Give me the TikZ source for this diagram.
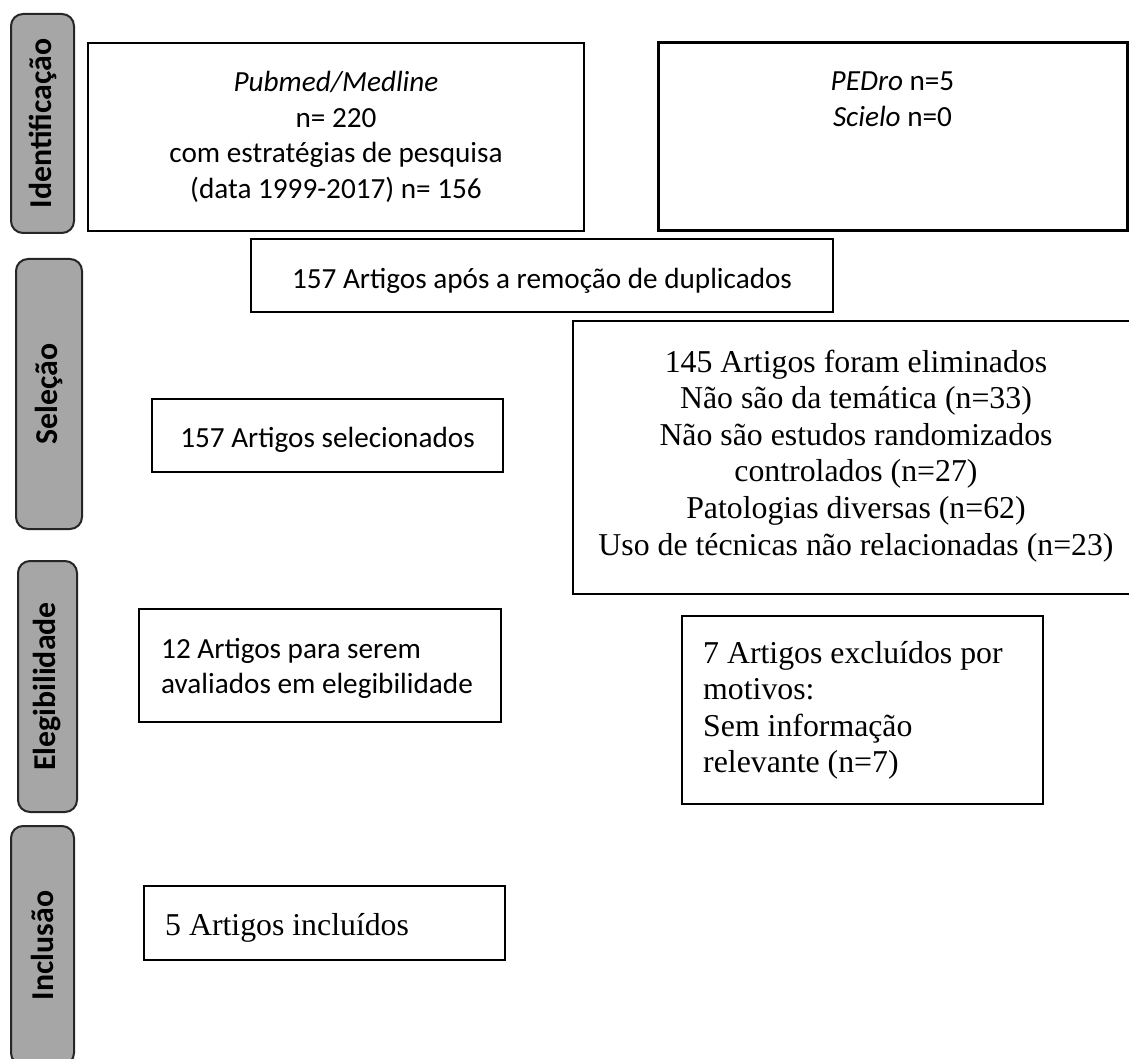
\documentclass[tikz,border=0pt]{standalone}
\usepackage{fontspec}
\newfontfamily\calib{Carlito}
\newfontfamily\tnr{Liberation Serif}
\newcommand\fcal{\calib\fontsize{29.2}{35.6}\selectfont}
\newcommand\fcalb{\calib\bfseries\fontsize{31.8}{38}\selectfont}
\newcommand\ftnr{\tnr\fontsize{31.8}{36.6}\selectfont}
\newcommand\ccol[1]{\begin{tabular}[t]{@{}c@{}}#1\end{tabular}}
\newcommand\lcol[1]{\begin{tabular}[t]{@{}l@{}}#1\end{tabular}}
\definecolor{sidegrey}{HTML}{A6A6A6}
\definecolor{sidedark}{HTML}{262626}
\begin{document}
\begin{tikzpicture}[x=1pt,y=-1pt,
  box/.style={draw=black,line width=2pt,inner sep=0pt,rectangle},
  side/.style={draw=sidedark,fill=sidegrey,line width=2pt,rounded corners=12pt,
    rotate=90,inner sep=0pt,font=\fcalb,text=black},
  txtc/.style={inner sep=0pt,anchor=base},
  txtl/.style={inner sep=0pt,anchor=base west}]
\useasboundingbox (0,0) rectangle (1129,1059);
\fill[white] (0,0) rectangle (1129,1059);
\clip (0,0) rectangle (1129,1059);

% phase sidebars
\node[side,minimum width=219pt,minimum height=63pt] (sbI) at (42.5,123.5) {Identificação};
\node[side,minimum width=270pt,minimum height=66pt] (sbS) at (49,394) {Seleção};
\node[side,minimum width=251pt,minimum height=59pt] (sbE) at (47.5,686.5) {Elegibilidade};
\node[side,minimum width=239pt,minimum height=63pt] (sbN) at (42.5,945.5) {Inclusão};

% boxes
\node[box,minimum width=496pt,minimum height=188pt] (pubmed) at (336,137) {};
\node[box,line width=3pt,minimum width=469pt,minimum height=188pt] (pedro) at (892.5,137) {};
\node[box,minimum width=582pt,minimum height=73pt] (dup) at (542,275.5) {};
\node[box,line width=2.5pt,minimum width=567pt,minimum height=273pt] (elim) at (856.5,457.5) {};
\node[box,minimum width=351pt,minimum height=73pt] (sel) at (327.5,435.5) {};
\node[box,minimum width=362pt,minimum height=113pt] (eleg) at (320,665.5) {};
\node[box,minimum width=361pt,minimum height=188pt] (excl) at (862.5,710) {};
\node[box,minimum width=361pt,minimum height=74pt] (incl) at (324.5,923) {};

% texts
\node[txtc,font=\fcal] (tpubmed) at (336,91.7) {\ccol{\textit{Pubmed/Medline}\\ n= 220\\ com estratégias de pesquisa\\ (data 1999-2017) n= 156}};
\node[txtc,font=\fcal] (tpedro) at (892.5,91) {\ccol{\textit{PEDro} n=5\\ \textit{Scielo} n=0}};
\node[txtc,font=\fcal] (tdup) at (542,288) {157 Artigos após a remoção de duplicados};
\node[txtc,font=\ftnr] (telim) at (856,372) {\ccol{145 Artigos foram eliminados\\ Não são da temática (n=33)\\ Não são estudos randomizados\\ controlados (n=27)\\ Patologias diversas (n=62)\\ Uso de técnicas não relacionadas (n=23)}};
\node[txtc,font=\fcal] (tsel) at (327.5,447) {157 Artigos selecionados};
\node[txtl,font=\fcal] (teleg) at (161,658) {\lcol{12 Artigos para serem\\ avaliados em elegibilidade}};
\node[txtl,font=\ftnr] (texcl) at (703,663) {\lcol{7 Artigos excluídos por\\ motivos:\\ Sem informação\\ relevante (n=7)}};
\node[txtl,font=\ftnr] (tincl) at (165,935) {5 Artigos incluídos};
\end{tikzpicture}
\end{document}
